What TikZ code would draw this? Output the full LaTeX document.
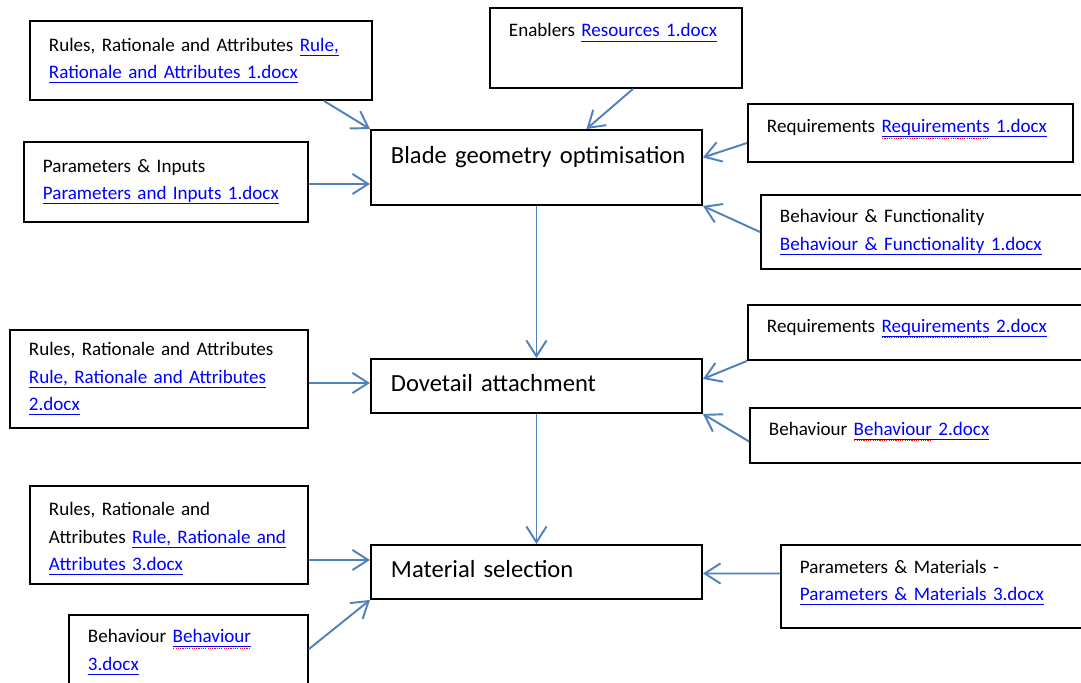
\documentclass[tikz,border=0pt]{standalone}
\usepackage{fontspec}
\setmainfont{Carlito}
\usepackage{xcolor}
\usepackage{tikz}
\usetikzlibrary{arrows.meta}

\definecolor{linkblue}{RGB}{0,0,255}
\definecolor{flowblue}{RGB}{79,129,189}
\newsavebox\lnkbox
\newsavebox\spellbox
\newcommand\lnk[1]{\textcolor{linkblue}{\sbox\lnkbox{#1}\rlap{\rule[-2.55pt]{\wd\lnkbox}{0.55pt}}\usebox\lnkbox}}
\newcommand\spell[1]{\sbox\spellbox{#1}\rlap{\color{red}\raisebox{-3.4pt}{\hbox to \wd\spellbox{\leaders\hbox to 1.3pt{\hss\rule{0.65pt}{0.55pt}\hss}\hfill}}}}

\begin{document}
\begin{tikzpicture}[x=0.2mm,y=-0.2mm,
    srcbox/.style={draw, line width=1.1pt, anchor=north west, align=left,
      inner xsep=3.8mm, inner ysep=0pt, font=\fontsize{10.85}{15.6}\selectfont},
    stage/.style={srcbox, inner xsep=4mm, minimum width=66.2mm, text width=58.2mm,
      minimum height=10.8mm, text depth=3.5pt, font=\fontsize{14}{17}\selectfont},
    feed/.style={draw=flowblue, line width=1.1pt, -{Straight Barb[length=9pt,width=11.5pt]}}]
  \useasboundingbox (0,0) rectangle (1081,682);
  \clip (0,0) rectangle (1081,682);
  % process stages
  \node[stage, minimum height=15mm, text height=10pt, text depth=14pt] (blade) at (370,129) {\mbox{Blade geometry optimisation}};
  \node[stage] (dove) at (370,358) {Dovetail attachment};
  \node[stage] (mat) at (370,544) {Material selection};
  % inputs to blade geometry
  \node[srcbox, minimum width=68.4mm, text width=60.8mm, minimum height=15.8mm] (rra) at (29,20)
    {Rules, Rationale and Attributes \lnk{Rule,}\\\lnk{Rationale and Attributes 1.docx}};
  \node[srcbox, minimum width=50.4mm, text width=42.8mm, minimum height=16mm, text height=8pt, text depth=20.5pt] (enab) at (489,7)
    {Enablers \lnk{Resources 1.docx}};
  \node[srcbox, minimum width=56.8mm, text width=49.2mm, minimum height=16mm] (pin) at (23,141)
    {Parameters \& Inputs\\\lnk{Parameters and Inputs 1.docx}};
  \node[srcbox, minimum width=65mm, text width=57.4mm, minimum height=11.6mm, text height=8pt, text depth=8pt] (req1) at (747,103)
    {Requirements \spell{Requirements}\lnk{Requirements 1.docx}};
  \node[srcbox, minimum width=68mm, text width=60.4mm, minimum height=14.8mm] (beh1) at (760,194)
    {Behaviour \& Functionality\\\lnk{Behaviour \& Functionality 1.docx}};
  % inputs to dovetail
  \node[srcbox, minimum width=59.6mm, text width=52mm, minimum height=19.6mm] (rrb) at (9,329)
    {Rules, Rationale and Attributes\\\lnk{Rule, Rationale and Attributes}\\\lnk{2.docx}};
  \node[srcbox, minimum width=70mm, text width=62.4mm, minimum height=11mm, text height=8pt, text depth=8pt] (req2) at (747,304)
    {Requirements \spell{Requirements}\lnk{Requirements 2.docx}};
  \node[srcbox, minimum width=70mm, text width=62.4mm, minimum height=11mm, text height=8pt, text depth=8pt] (beh2) at (749,407)
    {Behaviour \spell{Behaviour}\lnk{Behaviour 2.docx}};
  % inputs to material
  \node[srcbox, minimum width=55.6mm, text width=48mm, minimum height=19.6mm, text height=7.7pt, text depth=29.7pt] (rrc) at (29,485)
    {Rules, Rationale and\\\mbox{Attributes \lnk{Rule, Rationale and}}\\\lnk{Attributes 3.docx}};
  \node[srcbox, minimum width=47.8mm, text width=40.2mm, minimum height=14.8mm] (beh3) at (68,614)
    {Behaviour \spell{Behaviour}\lnk{Behaviour}\\\lnk{3.docx}};
  \node[srcbox, minimum width=64mm, text width=56.4mm, minimum height=16.6mm, text height=7.7pt, text depth=23pt] (pmat) at (780,544)
    {Parameters \& Materials -\\\lnk{Parameters \& Materials 3.docx}};
  % connectors
  \draw[feed] ([shift={(123,0)}]rra.south) -- (blade.north west);
  \draw[feed] ([shift={(17,0)}]enab.south) -- ([shift={(50,0)}]blade.north);
  \draw[feed] ([shift={(0,2)}]pin.east) -- ([shift={(0,16.5)}]blade.west);
  \draw[feed] ([shift={(0,10)}]req1.west) -- ([shift={(0,-10)}]blade.east);
  \draw[feed] (beh1.west) -- (blade.south east);
  \draw[feed] (blade.south) -- (dove.north);
  \draw[feed] ([shift={(0,4)}]rrb.east) -- ([shift={(0,-3)}]dove.west);
  \draw[feed] (req2.south west) -- ([shift={(0,-7)}]dove.east);
  \draw[feed] ([shift={(0,6)}]beh2.west) -- (dove.south east);
  \draw[feed] (dove.south) -- (mat.north);
  \draw[feed] ([shift={(0,25)}]rrc.east) -- ([shift={(0,-12)}]mat.west);
  \draw[feed] ([shift={(0,35)}]beh3.north east) -- (mat.south west);
  \draw[feed] ([shift={(0,-13)}]pmat.west) -- ([shift={(0,1.5)}]mat.east);
\end{tikzpicture}
\end{document}
